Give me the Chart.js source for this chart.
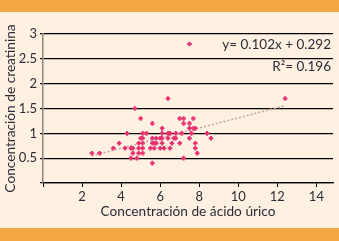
<!DOCTYPE html>
<html><head><meta charset="utf-8">
<script src="https://cdn.jsdelivr.net/npm/chart.js@4"></script>
<style>
html,body{margin:0;padding:0;background:#fef1e2;width:339px;height:241px;overflow:hidden}
#top{position:absolute;left:0;top:0;width:339px;height:12px;background:#f5a843}
#bot{position:absolute;left:0;top:228px;width:339px;height:13px;background:#f5a843}
#wrap{position:absolute;left:0;top:0;width:339px;height:241px}
</style></head><body>
<div id="top"></div><div id="bot"></div>
<div id="wrap"><canvas id="c" width="339" height="241"></canvas></div>
<script>
const uricAcid = [7.5, 6.4,12.4, 4.7, 5.0,7.0,7.2,7.7, 5.6,7.2,7.5, 6.1,7.5,7.7,7.8,
 4.3,5.1,5.3,6.1,6.4,6.5,6.8,7.1,7.6,8.4,
 5.0,5.1,5.6,5.8,6.0,6.1,6.4,6.7,6.8,7.5,8.6,
 3.9,4.9,5.1,5.6,5.7,5.8,6.1,6.6,7.0,7.8,
 3.6,4.2,4.5,4.6,4.9,5.1,5.5,5.7,6.0,6.2,6.5,7.8,
 2.5,2.9,4.6,4.9,5.1,7.9,
 4.5,4.8,7.2, 5.6];
const creatinine = [2.8, 1.7,1.7, 1.5, 1.3,1.3,1.3,1.3, 1.2,1.2,1.2, 1.1,1.1,1.1,1.1,
 1.0,1.0,1.0,1.0,1.0,1.0,1.0,1.0,1.0,1.0,
 0.9,0.9,0.9,0.9,0.9,0.9,0.9,0.9,0.9,0.9,0.9,
 0.8,0.8,0.8,0.8,0.8,0.8,0.8,0.8,0.8,0.8,
 0.7,0.7,0.7,0.7,0.7,0.7,0.7,0.7,0.7,0.7,0.7,0.7,
 0.6,0.6,0.6,0.6,0.6,0.6,
 0.5,0.5,0.5, 0.4];
const slope = 0.102, intercept = 0.292;
const xTicks = [2,4,6,8,10,12,14];
const yTicks = [0.5,1,1.5,2,2.5,3];
const eqText = 'y= 0.102x + 0.292';
const r2Text = 'R²= 0.196';

const pts = uricAcid.map((x,i)=>({x, y:creatinine[i]}));
const xmin = Math.min(...uricAcid), xmax = Math.max(...uricAcid);
const trend = [{x:xmin,y:slope*xmin+intercept},{x:xmax,y:slope*xmax+intercept}];
const FONT = 'Lato, "Open Sans", sans-serif';
const TXT = '#2b2b38';

const annot = {
  id:'annot',
  afterDraw(chart){
    const c = chart.ctx, a = chart.chartArea;
    c.save();
    c.fillStyle = TXT;
    c.font = '13.5px ' + FONT;
    c.textAlign = 'right';
    c.textBaseline = 'middle';
    c.fillText(eqText, a.right - 2, 45);
    c.fillText(r2Text, a.right - 2, 67);
    c.restore();
  }
};

new Chart(document.getElementById('c'), {
  type:'scatter',
  data:{datasets:[
    {data:pts, pointStyle:'cross', pointRadius:2.3, borderWidth:2, borderColor:'#e8306f', backgroundColor:'#e8306f', order:0},
    {type:'line', data:trend, borderColor:'#c7a4a2', borderWidth:1.6, borderDash:[2,2], pointRadius:0, fill:false, order:1}
  ]},
  options:{
    responsive:false, animation:false,
    layout:{padding:{top:34, right:2, left:0, bottom:21}},
    plugins:{legend:{display:false}, tooltip:{enabled:false}},
    scales:{
      x:{type:'linear', min:0, max:14.85,
        afterFit(s){s.height=37;},
        afterBuildTicks(s){s.ticks = [0].concat(xTicks).map(v=>({value:v}));},
        ticks:{callback:v=>v===0?'':v, color:TXT, font:{family:FONT,size:13}, padding:2, maxRotation:0},
        grid:{drawOnChartArea:false, drawTicks:true, tickLength:4, color:'#000', lineWidth:1},
        border:{display:true, color:'#000', width:1.2},
        title:{display:true, text:'Concentración de ácido úrico', color:TXT, font:{family:FONT,size:13.7}, padding:{top:2,bottom:0}}
      },
      y:{type:'linear', min:0, max:3,
        afterFit(s){s.width=43;},
        afterBuildTicks(s){s.ticks = [0].concat(yTicks).map(v=>({value:v}));},
        ticks:{callback:v=>v===0?'':v, color:TXT, font:{family:FONT,size:13}, padding:3},
        grid:{drawOnChartArea:true, drawTicks:true, tickLength:3, color:'#000', lineWidth:1.2},
        border:{display:true, color:'#8a857d', width:1.5},
        title:{display:true, text:'Concentración de creatinina', color:TXT, font:{family:FONT,size:13.7}, padding:{bottom:0,top:2}}
      }
    }
  },
  plugins:[annot]
});
</script>
</body></html>
